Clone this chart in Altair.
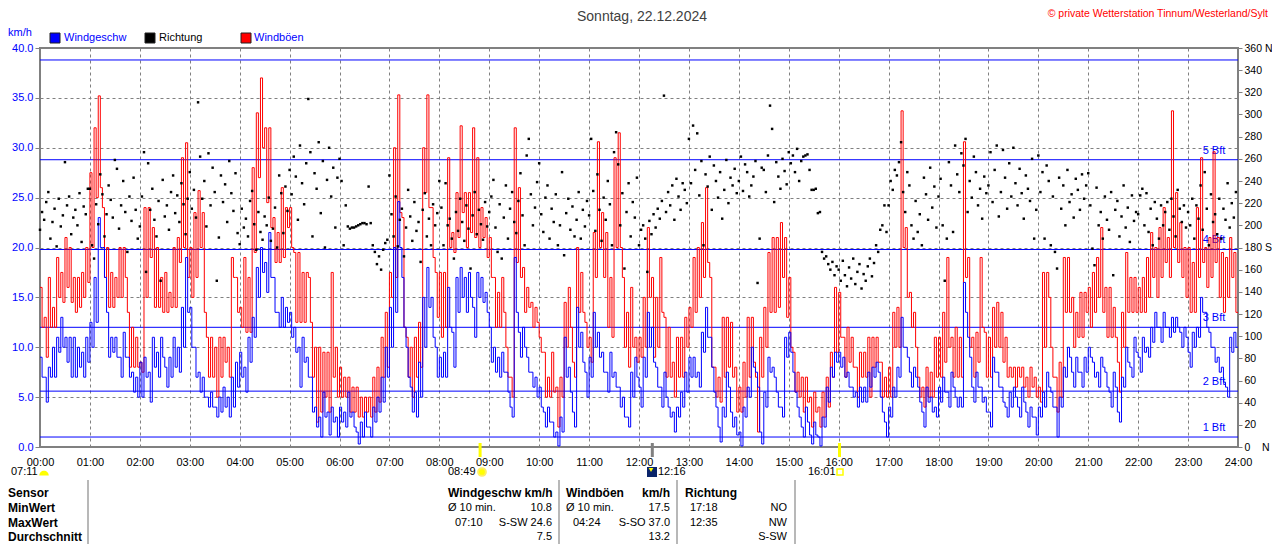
import altair as alt
import pandas as pd

FONT = "Liberation Sans"

# ---- wind speed km/h, one value per 2.5 minutes (00:00 ... 24:00) ----
wind_speed = [
    9, 7, 7, 4.5, 8, 7, 10, 7, 11, 9.5, 13, 10, 11, 8.5, 11, 7, 11, 7, 10, 8, 9.5, 7, 11, 8.5,                  # 00
    12.5, 10, 17, 12.5, 23, 20, 20, 17, 13.5, 9, 11, 9.5, 11, 9, 9, 7, 11.5, 9, 9, 7, 7.5, 5.5, 7, 5,           # 01
    8.5, 5, 9, 7, 7.5, 4.5, 11, 8, 9.5, 7, 11, 9, 8, 6, 9, 7, 11, 8, 10, 7.5, 14, 10, 19, 13.5,                 # 02
    14, 10, 10, 7, 7.5, 5.5, 7, 5, 5, 4, 5.5, 4, 4, 3, 5, 3.5, 6, 4, 5, 3, 7, 4, 8.5, 6,                        # 03
    9.5, 7, 8, 5.5, 11, 8.5, 13, 11, 18, 15, 20, 17.5, 18.5, 15.5, 21.5, 17, 17, 13.5, 13.5, 12, 15, 12, 14, 12.5,  # 04
    13.5, 11, 12, 9.5, 10, 6, 11, 8.5, 9, 7, 7, 3.5, 4, 2, 3, 1, 5.5, 3, 3.5, 1.2, 4, 2.5, 3, 1,               # 05
    4, 2.5, 3.5, 2, 5.5, 3, 3.5, 2, 1.5, 0.3, 2.5, 1, 3.5, 2, 2, 1, 4, 2.5, 5, 3.5, 7, 4.5, 10, 7,              # 06
    14, 10, 20, 13.5, 24.6, 20, 17, 12, 10, 7, 6, 3.5, 5.5, 3, 8.5, 5, 15, 10, 18, 14, 15, 11, 10, 7,           # 07
    9, 7, 9.5, 7, 16, 12, 11.5, 8, 17, 13.5, 18, 15, 17, 13.5, 17.5, 15, 14, 11, 17.5, 15, 17, 14.5, 15.5, 13.5,  # 08
    12, 8.5, 10, 7.5, 9, 7, 9.5, 7.5, 7.5, 5.5, 4, 3, 19, 13.5, 11.5, 9, 12, 10, 9, 7.5, 7.5, 6, 7, 5,          # 09
    6, 4, 3.5, 2, 4, 2.5, 2.5, 1, 1.5, 0.1, 3, 1.5, 11, 7, 8, 5.5, 3.5, 2, 14, 10, 11.5, 8.5, 7.5, 5,           # 10
    9, 7, 13.5, 10, 11.5, 9, 9.5, 7.5, 7.5, 5.5, 9.5, 7, 7.5, 6, 6, 4, 5, 3, 3, 2, 7.5, 5, 9, 7,                # 11
    6, 4, 9, 7, 13.5, 10, 12, 8.5, 8, 6, 6, 4, 7.5, 5, 4, 3, 3.5, 1.5, 4, 3, 5.5, 4, 7.5, 5.5,                  # 12
    9, 7, 9, 7, 7.5, 6, 11.5, 9.5, 14, 11, 11, 8, 5.5, 4, 2, 0.5, 4, 3, 7.5, 6, 3.5, 2, 3, 1.2,                 # 13
    1.5, 0.1, 4, 3, 6, 5, 10, 8, 7.5, 6, 1.5, 0.3, 5.5, 4, 9, 7.5, 8, 7, 5.5, 4, 4, 3, 11, 9,                   # 14
    11.5, 9.5, 7.5, 5.5, 4, 3, 2, 1, 4, 2.5, 1.2, 0.3, 2.5, 1.2, 1, 0.1, 3, 2, 6, 4.5, 8, 7, 9.5, 8.5,          # 15
    9.5, 8, 9, 7, 7.5, 6, 6, 5, 5.5, 4, 6, 4.5, 6, 4.5, 7.5, 6, 8, 7, 8.5, 7.5, 5, 3.5, 2.5, 1,                 # 16
    4, 3, 6, 5, 8, 7, 13, 10, 10, 9, 7.5, 6, 8, 7, 6, 4.5, 3.5, 2, 6, 4.5, 5, 3.5, 4, 3,                        # 17
    6, 4.5, 7, 5.5, 5.5, 4, 7.5, 6, 5, 4, 5, 4, 16.5, 13.5, 11, 9, 6, 4.5, 7.5, 6, 6, 4.5, 5, 3.5,              # 18
    3.5, 2, 9, 7.5, 7.5, 6, 6, 4.5, 4, 3, 5.5, 4, 6, 5, 4, 3, 6, 4.5, 3.5, 2, 4, 3, 3, 1.2,                     # 19
    4, 3, 5.5, 4, 7.5, 6, 5.5, 4, 4, 1, 5, 4, 8, 7, 10, 9, 7.5, 6, 9, 7.5, 7.5, 6, 9, 7.5,                      # 20
    10, 9, 8.5, 7, 7.5, 6, 9, 8, 7.5, 6, 5.5, 4, 7.5, 6, 3.5, 2.5, 7, 6, 10, 8.5, 8, 7, 11, 9.5,                # 21
    9, 7.5, 11, 9.5, 10, 9, 12, 10.5, 13.5, 12, 12, 10.5, 13.5, 12, 12, 11, 13, 11.5, 13, 12, 11.5, 10, 12, 11,  # 22
    9.5, 8, 11.5, 10, 12, 11, 15, 13.5, 13.5, 12, 11.5, 10, 10, 8.5, 9, 7.5, 8, 6.5, 6, 5, 11, 9.5, 11.5, 10, 10,  # 23 + 24:00
]

# ---- wind gusts km/h, one value per 2.5 minutes ----
wind_gust = [
    16, 12, 13, 9, 17, 12, 14, 12, 19, 15, 17.5, 14.5, 21, 16, 20, 14.5, 17, 13.5, 17, 14, 17.5, 15, 20, 16.5,   # 00
    27.5, 20, 32, 25, 35.2, 26, 24, 17, 20, 14, 17.5, 14, 17, 15, 20, 15, 20, 17, 13.5, 8, 12, 8, 11, 8,         # 01
    8.5, 7.5, 24, 15, 24, 19, 22, 14, 20, 14, 17, 13.5, 17.5, 13.5, 15.5, 14, 20, 14, 21, 18.5, 29, 20, 30.5, 17,  # 02
    20, 15, 23.5, 17, 25.7, 20, 23.5, 13.5, 11, 7, 11, 7, 10, 5, 11, 7, 11, 8.5, 10, 7, 19, 17, 17, 13.5,       # 03
    14, 12, 19, 11.5, 17, 11.5, 28, 19.5, 33.5, 27, 37, 30, 32, 24.5, 32, 22, 23, 18.5, 21.5, 18.5, 26, 19, 24, 22,  # 04
    24, 20, 19.5, 12.5, 19.5, 12.5, 17.5, 12.5, 17.5, 17, 12.5, 7, 10, 2.5, 10, 3.5, 9.5, 5, 9.5, 3.5, 17.5, 7, 10, 5,  # 05
    8, 5, 7, 5, 7, 3.5, 6, 3.5, 6, 3, 5, 3, 5, 3.5, 5, 3, 7, 3.5, 8, 4.5, 11, 7, 13.5, 8,                         # 06
    17.5, 15, 30, 17, 35.3, 23.5, 23, 12, 11, 7, 10, 5, 11, 7, 12.5, 8, 30, 25.5, 35.3, 24, 24, 19, 17.5, 13,    # 07
    17.5, 11, 17.5, 12, 29, 20, 21.5, 19.5, 25.5, 21, 32.2, 23.5, 25.5, 20, 25.5, 21.5, 32, 21, 29, 20, 24, 21, 23, 19,  # 08
    21, 17, 17, 12, 15.5, 12, 17, 13.5, 10, 7, 7, 5, 32, 18.5, 26, 17, 18, 13.5, 16, 14, 14.5, 12, 14, 12.5,    # 09
    11, 9.5, 9.5, 5, 7, 5, 9.5, 5.5, 6, 2, 7, 5, 14.5, 10, 16, 12, 8.5, 7, 20, 13.5, 17.5, 13.5, 12.5, 10,      # 10
    11, 8.5, 21.5, 17, 30.6, 20, 23.5, 17, 21.5, 12, 17, 11, 29, 20, 31.5, 20, 17, 10, 13.5, 8, 16, 10, 11, 8.5,  # 11
    11, 9, 15, 10, 22, 15, 17, 9, 15, 10, 19, 13.5, 13, 7, 12, 7, 8.5, 5, 11, 7, 11, 7, 13, 10,                  # 12
    14, 12, 19, 13.5, 20, 15, 22.5, 17, 26, 18.5, 17, 8, 8, 5, 7, 4.5, 13, 7, 13, 8, 12.5, 7, 8, 3.5,           # 13
    6, 3.5, 8.5, 5, 13, 7, 13, 8.5, 7, 1.5, 11, 7, 14, 10, 19.5, 13.5, 21, 13.5, 21, 14, 22.5, 17, 21, 13,      # 14
    17, 10, 9.5, 5.5, 7.5, 5, 7, 3.5, 7, 4.5, 5, 2, 5.5, 3.5, 4, 2, 5.5, 3, 7, 4, 9.5, 7, 16, 9.5,              # 15
    15.5, 11, 11, 7, 12, 8.5, 11, 8, 8, 5, 9.5, 7, 9.5, 7, 11, 5, 11, 8, 11, 8.5, 8.5, 5, 7, 5,                 # 16
    8, 5, 13.5, 10, 14, 10, 33.7, 20, 22, 15, 15.5, 12, 13.5, 10, 7, 5, 6, 4, 8, 5, 7.5, 5, 11, 7,              # 17
    11, 7, 13.5, 8.5, 19, 10, 11, 7, 12, 7, 11, 7, 30.6, 17, 19, 10, 11, 7, 11.5, 8.5, 19, 12, 11.5, 7,         # 18
    11, 7, 14, 10, 14.5, 10, 13.5, 8.5, 11, 7, 8, 7, 8, 6, 8, 7, 8, 6, 7, 5, 8, 6, 7, 5,                         # 19
    6, 4.5, 17.5, 10, 17.5, 15, 10, 7, 7, 3.5, 8.5, 5, 19, 13.5, 19, 13.5, 15, 10, 13.5, 11, 15.5, 11, 15.5, 13.5,  # 20
    16, 12, 17.5, 13.5, 19, 15, 22, 13.5, 16, 11, 16, 11, 14, 11, 8.5, 5.5, 13.5, 10, 19.5, 13.5, 17, 13.5, 17, 13.5,  # 21
    16, 13.5, 17, 13.5, 19, 15, 21.5, 17, 20, 15, 22, 17, 24, 18.5, 21, 17, 33.7, 20, 25.5, 18.5, 22.5, 17, 20, 15,  # 22
    20, 13.5, 18.5, 13.5, 24, 17, 29, 18.5, 20, 16, 21, 17, 29.6, 18.5, 21, 15, 19.5, 13.5, 19, 15, 21, 17, 19.5, 13.5, 13.5,  # 23 + 24:00
]

# ---- wind direction degrees, one value per 2.5 minutes ----
wind_dir = [
    196, 212, 205, 221, 230, 188, 203, 215, 181, 224, 199, 209, 257, 218, 226, 192, 207, 214, 200, 229, 185, 217, 210, 233,
    233, 182, 170, 219, 201, 246, 228, 190, 210, 236, 223, 207, 259, 251, 197, 218, 240, 212, 176, 226, 204, 243, 214, 188,
    199, 226, 266, 158, 256, 214, 233, 205, 190, 222, 150, 241, 208, 218, 196, 230, 245, 211, 227, 203, 238, 219, 192, 224,
    248, 215, 232, 207, 311, 262, 224, 240, 199, 265, 218, 252, 230, 150, 189, 245, 221, 237, 203, 258, 229, 213, 247, 193,
    183, 215, 198, 206, 190, 222, 231, 201, 178, 212, 194, 187, 208, 200, 225, 186, 197, 216, 180, 245, 229, 193, 235, 213,
    250, 228, 262, 244, 205, 272, 238, 219, 256, 314, 266, 190, 247, 233, 275, 211, 258, 180, 241, 270, 226, 252, 198, 243,
    260, 240, 182, 218, 199, 197, 198, 198, 199, 200, 201, 202, 202, 201, 235, 202, 182, 176, 165, 172, 160, 178, 184, 187,
    245, 210, 190, 226, 181, 205, 215, 172, 198, 232, 208, 186, 221, 195, 203, 167, 214, 229, 190, 206, 182, 219, 200, 211,
    240, 216, 182, 238, 200, 206, 188, 170, 212, 195, 224, 203, 186, 218, 197, 161, 209, 230, 192, 214, 201, 187, 221, 199,
    212, 226, 241, 198, 176, 219, 170, 207, 236, 188, 215, 230, 203, 193, 222, 247, 209, 182, 263, 278, 228, 200, 216, 239,
    256, 210, 194, 225, 236, 188, 215, 203, 228, 182, 200, 248, 173, 211, 224, 196, 217, 190, 205, 230, 188, 214, 199, 222,
    209, 278, 231, 195, 246, 214, 186, 225, 205, 240, 219, 182, 266, 284, 255, 200, 229, 161, 212, 238, 190, 221, 207, 243,
    182, 196, 200, 188, 158, 204, 192, 210, 198, 215, 206, 222, 317, 212, 230, 218, 236, 205, 242, 226, 214, 238, 232, 220,
    278, 238, 290, 250, 283, 227, 258, 182, 246, 235, 262, 214, 254, 240, 225, 248, 206, 232, 259, 220, 243, 236, 251, 229,
    240, 262, 231, 255, 248, 226, 236, 244, 258, 148, 188, 252, 250, 230, 263, 308, 287, 221, 257, 244, 233, 260, 249, 237,
    266, 256, 263, 248, 269, 240, 258, 262, 263, 264, 250, 232, 232, 233, 211, 212, 176, 170, 172, 165, 160, 167, 155, 163,
    160, 150, 168, 155, 145, 162, 152, 170, 147, 158, 165, 143, 156, 150, 163, 170, 154, 166, 182, 176, 196, 200, 218, 194,
    218, 240, 232, 250, 245, 257, 275, 230, 212, 248, 236, 200, 188, 222, 194, 210, 182, 243, 228, 205, 252, 216, 235, 198,
    226, 242, 200, 150, 188, 257, 236, 194, 272, 246, 230, 265, 254, 278, 212, 240, 225, 262, 248, 218, 233, 206, 244, 229,
    236, 266, 221, 250, 272, 208, 230, 268, 243, 215, 256, 226, 270, 238, 218, 251, 229, 206, 245, 233, 222, 260, 188, 214,
    263, 230, 248, 188, 254, 240, 182, 226, 176, 161, 243, 215, 236, 200, 250, 221, 228, 207, 242, 232, 214, 246, 224, 236,
    247, 218, 179, 164, 234, 200, 212, 188, 226, 205, 196, 230, 155, 214, 222, 190, 208, 236, 198, 216, 185, 227, 204, 212,
    210, 227, 233, 200, 229, 194, 215, 182, 221, 206, 188, 218, 200, 212, 221, 196, 224, 208, 190, 232, 215, 203, 218, 198,
    212, 200, 224, 188, 218, 206, 236, 196, 248, 215, 182, 228, 203, 210, 192, 224, 188, 215, 205, 238, 198, 220, 207, 230,
]

beaufort_kmh = [1.0, 5.6, 12.0, 19.8, 28.8, 38.8]
beaufort_labels = ["1 Bft", "2 Bft", "3 Bft", "4 Bft", "5 Bft"]
kmh_ticks = [0, 5, 10, 15, 20, 25, 30, 35, 40]
dir_ticks = list(range(0, 361, 20))
hour_ticks = list(range(0, 1441, 60))

title_text = "Sonntag, 22.12.2024"
copyright_text = "© private Wetterstation Tinnum/Westerland/Sylt"
legend_labels = ["Windgeschw", "Richtung", "Windböen"]

sun_events = ["08:49", "16:01"]
moon_events = ["12:16"]
event_labels = ["07:11", "08:49", "12:16", "16:01"]

row_labels = ["Sensor", "MinWert", "MaxWert", "Durchschnitt"]
col_headers = ["Windgeschw km/h", "Windböen", "Richtung"]
left_values = ["Ø 10 min.", "07:10", "Ø 10 min.", "04:24", "17:18", "12:35"]
right_values = ["10.8", "S-SW 24.6", "7.5", "17.5", "S-SO 37.0", "13.2", "NO", "NW", "S-SW"]


def to_min(s):
    h, m = s.split(":")
    return int(h) * 60 + int(m)


# ---------------- layout (page px -> plot px) ----------------
OX, OY = 40, 48
W, H = 1198, 399
ROW_Y = [493, 508, 523, 537]


def P(x):
    return x - OX


def Q(y):
    return y - OY


BLUE = "#0000ff"
RED = "#ff0000"
GRAY = "#808080"

df_wind = pd.DataFrame({"t": [i * 2.5 for i in range(len(wind_speed))], "v": wind_speed})
df_gust = pd.DataFrame({"t": [i * 2.5 for i in range(len(wind_gust))], "v": wind_gust})
df_dir = pd.DataFrame({"t": [i * 2.5 for i in range(len(wind_dir))], "d": wind_dir})
df_bft = pd.DataFrame({"v": beaufort_kmh})
df_bft_lab = pd.DataFrame({"v": beaufort_kmh[:5], "label": beaufort_labels})

x_axis = alt.Axis(values=hour_ticks, grid=True, ticks=False, labelPadding=9,
                  labelExpr="(datum.value < 600 ? '0' : '') + floor(datum.value / 60) + ':00'",
                  labelColor="black", labelFlush=False, labelOverlap=False, labelBound=False,
                  title=None)
X = alt.X("t:Q", scale=alt.Scale(domain=[0, 1440], nice=False, zero=False), axis=x_axis)
kmh_scale = alt.Scale(domain=[0, 40], nice=False)

left_axis = alt.Axis(values=kmh_ticks, format=".1f", labelColor=BLUE, tickSize=5,
                     labelPadding=2, grid=True, title=None, labelFlush=False, labelOverlap=False)
nb = "\u00a0"
right_axis = alt.Axis(orient="right", values=dir_ticks, grid=False, tickSize=4, labelPadding=2,
                      labelColor="black", labelFontSize=10.5, title=None, labelFlush=False,
                      labelOverlap=False,
                      labelExpr="datum.value == 360 ? '360 N' : datum.value == 180 ? '180 S' : "
                                "datum.value == 0 ? '0" + nb * 4 + "N' : datum.value")

layers = []

# Beaufort lines and labels
layers.append(alt.Chart(df_bft).mark_rule(color=BLUE, strokeWidth=1).encode(
    y=alt.Y("v:Q", scale=kmh_scale, axis=None)))
layers.append(alt.Chart(df_bft_lab).mark_text(color=BLUE, font=FONT, fontSize=11, dy=-9,
                                              align="center", baseline="middle").encode(
    x=alt.value(P(1214)), y=alt.Y("v:Q", scale=kmh_scale, axis=None), text="label:N"))

# Gusts, speed, direction
layers.append(alt.Chart(df_gust).mark_line(color=RED, strokeWidth=1, interpolate="step-after").encode(
    x=X, y=alt.Y("v:Q", scale=kmh_scale, axis=None)))
layers.append(alt.Chart(df_wind).mark_line(color=BLUE, strokeWidth=1, interpolate="step-after").encode(
    x=X, y=alt.Y("v:Q", scale=kmh_scale, axis=left_axis)))
layers.append(alt.Chart(df_dir).mark_square(color="black", size=6, opacity=1).encode(
    x=X, y=alt.Y("d:Q", scale=alt.Scale(domain=[0, 360], nice=False), axis=right_axis)))

# Sun / moon event ticks on the time axis
df_sun = pd.DataFrame({"t": [to_min(s) for s in sun_events]})
df_moon = pd.DataFrame({"t": [to_min(s) for s in moon_events]})
layers.append(alt.Chart(df_sun).mark_rule(color="#ffff00", strokeWidth=3).encode(
    x=X, y=alt.value(Q(443)), y2=alt.value(Q(457))))
layers.append(alt.Chart(df_moon).mark_rule(color=GRAY, strokeWidth=3).encode(
    x=X, y=alt.value(Q(443)), y2=alt.value(Q(457))))


def texts(labels, xs, ys, **kw):
    df = pd.DataFrame({"label": labels, "px": [P(v) for v in xs], "py": [Q(v) for v in ys]})
    props = dict(font=FONT, fontSize=11, baseline="middle", align="left", color="black")
    props.update(kw)
    return alt.Chart(df).mark_text(**props).encode(
        x=alt.X("px:Q", scale=None, axis=None),
        y=alt.Y("py:Q", scale=None, axis=None),
        text="label:N")


def symbol(xs, ys, **kw):
    df = pd.DataFrame({"px": [P(v) for v in xs], "py": [Q(v) for v in ys]})
    return alt.Chart(df).mark_point(**kw).encode(
        x=alt.X("px:Q", scale=None, axis=None),
        y=alt.Y("py:Q", scale=None, axis=None))


# Title, copyright, unit, legend
layers.append(texts([title_text], [642], [17], fontSize=14, align="center", color="#404040"))
layers.append(texts([copyright_text], [1268], [14], fontSize=10.5, align="right", color=RED))
layers.append(texts(["km/h"], [8], [33], color=BLUE))
layers.append(symbol([55], [38], shape="square", size=100, filled=True, fill=BLUE, stroke="#202020",
                     strokeWidth=1, opacity=1))
layers.append(symbol([150], [38], shape="square", size=100, filled=True, fill="black", stroke="#202020",
                     strokeWidth=1, opacity=1))
layers.append(symbol([246], [38], shape="square", size=100, filled=True, fill=RED, stroke="#202020",
                     strokeWidth=1, opacity=1))
layers.append(texts([legend_labels[0], legend_labels[2]], [64, 254], [38, 38], color=BLUE))
layers.append(texts([legend_labels[1]], [159], [38], color="black"))

# Event labels and icons
layers.append(texts(event_labels, [11, 448, 658, 808], [472, 472, 472, 472]))
layers.append(symbol([44], [474], shape="M -1 0.3 A 1 1 0 0 1 1 0.3 Z", size=90, filled=True,
                     fill="#ffff00", strokeWidth=0, opacity=1))
layers.append(symbol([482], [472], shape="circle", size=60, filled=True, fill="#ffff00",
                     stroke="#ffee66", strokeWidth=2, opacity=1))
layers.append(symbol([652], [472], shape="square", size=100, filled=True, fill="#0a246a",
                     strokeWidth=0, opacity=1))
layers.append(symbol([651], [470], shape="triangle-down", size=22, filled=True, fill="#ffff00",
                     strokeWidth=0, opacity=1))
layers.append(symbol([840], [472], shape="square", size=36, filled=False, stroke="#ffff00",
                     strokeWidth=1.5, opacity=1))

# Statistics table
layers.append(texts(row_labels + col_headers, [8, 8, 8, 8, 448, 566, 685],
                    ROW_Y + [ROW_Y[0]] * 3, fontSize=12, fontWeight="bold"))
layers.append(texts(["km/h"], [670], [ROW_Y[0]], fontSize=12, fontWeight="bold", align="right"))
layers.append(texts(left_values, [448, 455, 566, 573, 690, 690],
                    [ROW_Y[1], ROW_Y[2], ROW_Y[1], ROW_Y[2], ROW_Y[1], ROW_Y[2]]))
layers.append(texts(right_values, [552, 552, 552, 670, 670, 670, 787, 787, 787],
                    [ROW_Y[1], ROW_Y[2], ROW_Y[3]] * 3, align="right"))
df_sep = pd.DataFrame({"px": [P(v) for v in [88, 559, 677, 795]]})
layers.append(alt.Chart(df_sep).mark_rule(color="#a0a0a0", strokeWidth=1.5).encode(
    x=alt.X("px:Q", scale=None, axis=None), y=alt.value(Q(480)), y2=alt.value(Q(552))))

chart = alt.layer(*layers).resolve_scale(y="independent").properties(
    width=W, height=H,
    padding={"left": 32, "top": 40, "right": 34, "bottom": 97},
    autosize=alt.AutoSizeParams(type="none"),
    background="white",
).configure_view(stroke=GRAY, strokeWidth=2).configure_axis(
    labelFont=FONT, labelFontSize=11, tickColor=GRAY, domain=False,
    gridColor=GRAY, gridDash=[3, 3], gridOpacity=1, gridWidth=1,
)

chart.save("out.html", embed_options={"renderer": "svg", "actions": False})
